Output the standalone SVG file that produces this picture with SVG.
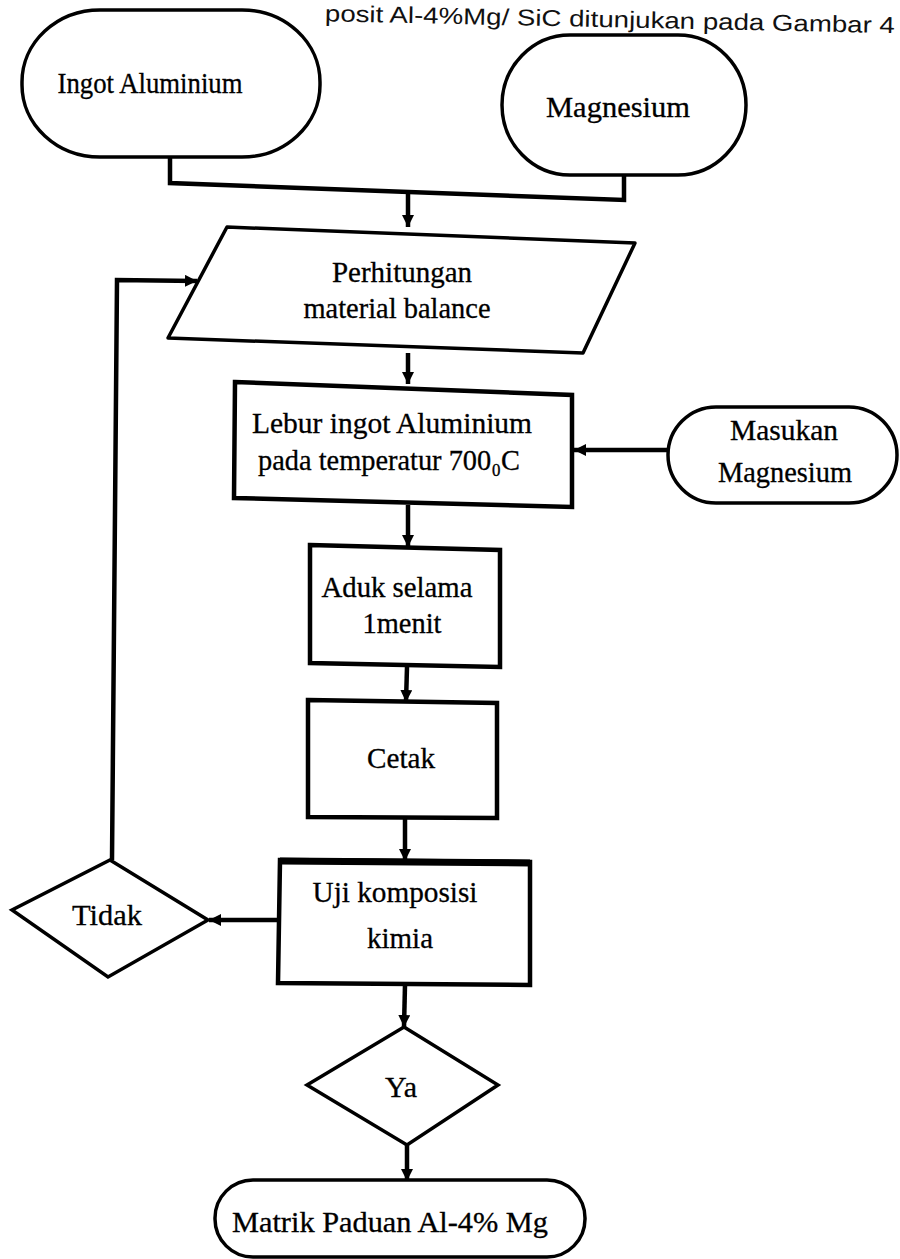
<svg xmlns="http://www.w3.org/2000/svg" width="900" height="1259" viewBox="0 0 900 1259">
<defs>
<style>
.shape{fill:#fff;stroke:#000;stroke-width:3.5;stroke-linejoin:round}
.box{fill:#fff;stroke:#000;stroke-width:4.5;stroke-linejoin:miter}
.dia{fill:#fff;stroke:#000;stroke-width:3.5;stroke-linejoin:miter}
.lbl{font-family:"Liberation Serif","Times New Roman",serif;font-size:29px;fill:#000;stroke:#000;stroke-width:0.3;text-anchor:middle}
.conn{fill:none;stroke:#000;stroke-width:4.5}
.cap{font-family:"Liberation Sans",Arial,sans-serif;font-size:23px;fill:#111}
</style>
<marker id="ah" markerUnits="userSpaceOnUse" markerWidth="14" markerHeight="14" refX="12" refY="6" orient="auto">
<path d="M0,0 L12,6 L0,12 z" fill="#000"/>
</marker>
</defs>
<rect width="900" height="1259" fill="#fff"/>

<g id="connectors">
<polyline class="conn" points="170,157 170,183 624,200 624,175" stroke-width="5.5"/>
<line class="conn" x1="408" y1="191" x2="408" y2="227" marker-end="url(#ah)"/>
<polyline class="conn" points="112,860 117,280 197,281" marker-end="url(#ah)"/>
<line class="conn" x1="408" y1="353" x2="408" y2="384" marker-end="url(#ah)"/>
<line class="conn" x1="668" y1="450" x2="574" y2="450" marker-end="url(#ah)"/>
<line class="conn" x1="408" y1="505" x2="408" y2="547" marker-end="url(#ah)"/>
<line class="conn" x1="407" y1="667" x2="406" y2="702" marker-end="url(#ah)"/>
<line class="conn" x1="405" y1="818" x2="405" y2="861" marker-end="url(#ah)"/>
<line class="conn" x1="278" y1="920" x2="209" y2="920" marker-end="url(#ah)"/>
<line class="conn" x1="405" y1="985" x2="404" y2="1027" marker-end="url(#ah)"/>
<line class="conn" x1="407" y1="1145" x2="407" y2="1181" marker-end="url(#ah)"/>
</g>

<g id="ingot">
<rect class="shape" x="22" y="10" width="298" height="147" rx="78" ry="72"/>
<text class="lbl" x="150" y="93" textLength="185" lengthAdjust="spacingAndGlyphs">Ingot Aluminium</text>
</g>
<g id="magnesium">
<rect class="shape" x="502" y="35" width="244" height="140" rx="68" ry="70"/>
<text class="lbl" x="618" y="117" textLength="144" lengthAdjust="spacingAndGlyphs">Magnesium</text>
</g>
<g id="perhitungan">
<polygon class="shape" points="227,227 635,243 583,353 168,338"/>
<text class="lbl" x="402" y="282" textLength="140" lengthAdjust="spacingAndGlyphs">Perhitungan</text>
<text class="lbl" x="397" y="318" textLength="187" lengthAdjust="spacingAndGlyphs">material balance</text>
</g>
<g id="lebur">
<polygon class="box" points="235,382 572,395 572,507 234,498"/>
<text class="lbl" x="392" y="433" textLength="280" lengthAdjust="spacingAndGlyphs">Lebur ingot Aluminium</text>
<text class="lbl" x="389" y="470" textLength="262" lengthAdjust="spacingAndGlyphs">pada temperatur 700₀C</text>
</g>
<g id="masukan">
<rect class="shape" x="668" y="407" width="229" height="96" rx="48" ry="48"/>
<text class="lbl" x="784" y="440" textLength="108" lengthAdjust="spacingAndGlyphs">Masukan</text>
<text class="lbl" x="785" y="482" textLength="134" lengthAdjust="spacingAndGlyphs">Magnesium</text>
</g>
<g id="aduk">
<polygon class="box" points="310,545 500,550 500,667 310,663"/>
<text class="lbl" x="397" y="597" textLength="151" lengthAdjust="spacingAndGlyphs">Aduk selama</text>
<text class="lbl" x="402" y="633" textLength="79" lengthAdjust="spacingAndGlyphs">1menit</text>
</g>
<g id="cetak">
<polygon class="box" points="308,700 497,703 497,818 308,817"/>
<text class="lbl" x="401" y="768" textLength="68" lengthAdjust="spacingAndGlyphs">Cetak</text>
</g>
<g id="uji">
<polygon class="box" points="280,860 530,862 530,985 278,983"/>
<line x1="280" y1="861" x2="530" y2="863" stroke="#000" stroke-width="7"/>
<text class="lbl" x="395" y="902" textLength="165" lengthAdjust="spacingAndGlyphs">Uji komposisi</text>
<text class="lbl" x="400" y="948" textLength="66" lengthAdjust="spacingAndGlyphs">kimia</text>
</g>
<g id="tidak">
<polygon class="dia" points="110,860 208,920 108,977 12,910"/>
<text class="lbl" x="107" y="925" textLength="70" lengthAdjust="spacingAndGlyphs">Tidak</text>
</g>
<g id="ya">
<polygon class="dia" points="404,1027 498,1085 407,1145 307,1085"/>
<text class="lbl" x="401" y="1097" textLength="32" lengthAdjust="spacingAndGlyphs">Ya</text>
</g>
<g id="matrik">
<rect class="shape" x="215" y="1180" width="370" height="77" rx="38" ry="38"/>
<text class="lbl" x="390" y="1232" textLength="316" lengthAdjust="spacingAndGlyphs">Matrik Paduan Al-4% Mg</text>
</g>
<text class="cap" x="895" y="27" text-anchor="end" transform="rotate(1.2 600 15)" textLength="570" lengthAdjust="spacingAndGlyphs">posit Al-4%Mg/ SiC ditunjukan pada Gambar 4</text>
</svg>
